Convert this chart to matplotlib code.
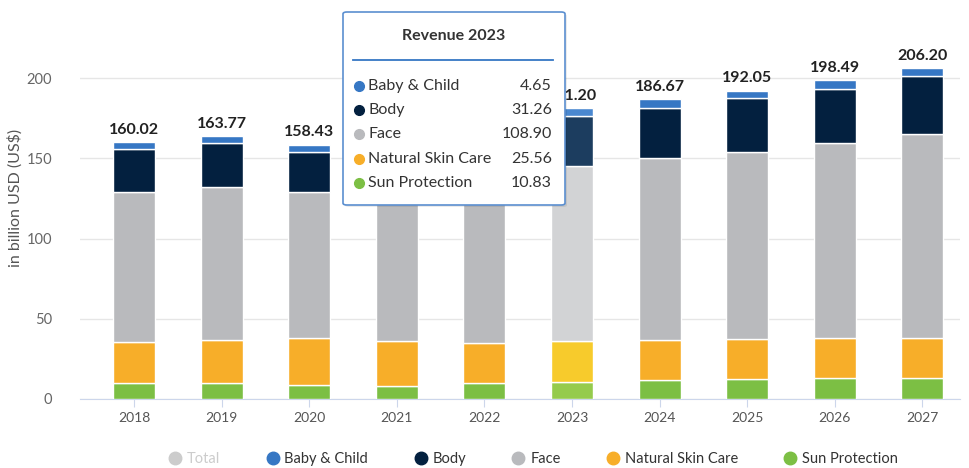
import matplotlib.pyplot as plt
import numpy as np
from matplotlib.lines import Line2D
from matplotlib.patches import FancyBboxPatch

plt.rcParams["font.family"] = ["Lato", "DejaVu Sans"]

years = ["2018", "2019", "2020", "2021", "2022", "2023", "2024", "2025", "2026", "2027"]
sun_protection = [9.8, 9.8, 8.7, 8.3, 9.8, 10.83, 11.8, 12.5, 12.9, 12.9]
natural_skin_care = [25.9, 27.0, 29.5, 28.0, 24.9, 25.56, 25.0, 24.7, 24.9, 24.9]
face = [93.2, 95.2, 90.7, 95.5, 102.0, 108.90, 113.3, 116.6, 122.0, 127.2]
body = [27.1, 27.8, 25.3, 30.0, 30.5, 31.26, 31.5, 33.7, 33.4, 36.4]
baby_child = [4.02, 3.97, 4.23, 4.3, 4.5, 4.65, 5.07, 4.55, 5.29, 4.8]
totals = [160.02, 163.77, 158.43, 166.10, 171.70, 181.20, 186.67, 192.05, 198.49, 206.20]

hover_year = "2023"
# totals of these years sit under the tooltip in the reference
covered_years = ["2021", "2022"]
tooltip_rows = ["Baby & Child", "Body", "Face", "Natural Skin Care", "Sun Protection"]

series = [
    ("Sun Protection", sun_protection, "#7cbf44", "#95cb4c"),
    ("Natural Skin Care", natural_skin_care, "#f7ae29", "#f7cb2c"),
    ("Face", face, "#b9babd", "#d2d3d5"),
    ("Body", body, "#03203f", "#1c3d5f"),
    ("Baby & Child", baby_child, "#3677c4", "#4a88d0"),
]

fig = plt.figure(figsize=(9.69, 4.68), dpi=100)
ax = fig.add_axes([80 / 969, 69 / 468, 880 / 969, 345 / 468])

x = np.arange(len(years))
hi = years.index(hover_year)
bottom = np.zeros(len(years))
for name, vals, col, hcol in series:
    vals = np.array(vals)
    colors = [hcol if i == hi else col for i in range(len(years))]
    ax.bar(x, vals, 0.48, bottom=bottom, color=colors, edgecolor="white",
           linewidth=1.0, zorder=3)
    bottom += vals

for i, t in enumerate(totals):
    if years[i] in covered_years:
        continue
    ax.text(x[i], bottom[i] + 3.5, f"{t:.2f}", ha="center", va="bottom",
            fontsize=11.5, fontweight="bold", color="#222222", zorder=4)

ax.set_xlim(-0.616, 9.43)
ax.set_ylim(0, 215)
ax.set_yticks([0, 50, 100, 150, 200])
ax.set_xticks(x)
ax.set_xticklabels(years)
ax.grid(axis="y", color="#e6e6e6", linewidth=1, zorder=0)
for s in ["top", "right", "left"]:
    ax.spines[s].set_visible(False)
ax.spines["bottom"].set_color("#ccd6eb")
ax.tick_params(axis="y", length=0, pad=20, labelsize=10.5, labelcolor="#666666")
ax.tick_params(axis="x", length=6, color="#ccd6eb", labelsize=10,
               labelcolor="#555555", pad=3)
fig.text(15 / 969, 1 - 198 / 468, "in billion USD (US$)", rotation=90,
         ha="center", va="center", fontsize=11.5, color="#555555")

# legend
handles = [Line2D([], [], marker="o", linestyle="", markersize=9, color="#cccccc")]
labels = ["Total"]
for name, col in [("Baby & Child", "#3677c4"), ("Body", "#03203f"), ("Face", "#b9babd"),
                  ("Natural Skin Care", "#f7ae29"), ("Sun Protection", "#7cbf44")]:
    handles.append(Line2D([], [], marker="o", linestyle="", markersize=9, color=col))
    labels.append(name)
leg = fig.legend(handles, labels, loc="center", bbox_to_anchor=(533 / 969, 1 - 459 / 468),
                 ncol=6, frameon=False, fontsize=10.5, handletextpad=0.3,
                 columnspacing=3.1, handlelength=1.0)
leg.get_texts()[0].set_color("#cccccc")
for t in leg.get_texts()[1:]:
    t.set_color("#333333")

# tooltip for the hovered year
tx0, ty0, tw, th = 343, 12, 222, 193
shadow = FancyBboxPatch(((tx0 + 2) / 969, 1 - (ty0 + th + 2) / 468), tw / 969, th / 468,
                        boxstyle="round,pad=0,rounding_size=0.004", transform=fig.transFigure,
                        facecolor="#000000", alpha=0.08, edgecolor="none", zorder=9)
fig.patches.append(shadow)
box = FancyBboxPatch((tx0 / 969, 1 - (ty0 + th) / 468), tw / 969, th / 468,
                     boxstyle="round,pad=0,rounding_size=0.004", transform=fig.transFigure,
                     facecolor="white", edgecolor="#5b8fd0", linewidth=1.2, zorder=10)
fig.patches.append(box)
fig.text(454 / 969, 1 - 36 / 468, "Revenue " + hover_year, ha="center", va="center",
         fontsize=11.5, fontweight="bold", color="#333333", zorder=11)
fig.add_artist(Line2D([353 / 969, 553 / 969], [1 - 60 / 468, 1 - 60 / 468],
                      color="#3677c4", linewidth=1.3, zorder=11))
row_vals = {name: vals[hi] for name, vals, col, hcol in series}
row_cols = {name: col for name, vals, col, hcol in series}
for k, name in enumerate(tooltip_rows):
    yy = 1 - (86 + k * 24.2) / 468
    fig.add_artist(Line2D([359 / 969], [yy], marker="o", markersize=7,
                          color=row_cols[name], linestyle="", zorder=11))
    fig.text(368 / 969, yy, name, ha="left", va="center", fontsize=11.5,
             color="#333333", zorder=11)
    fig.text(552 / 969, yy, f"{row_vals[name]:.2f}", ha="right", va="center",
             fontsize=11.5, color="#333333", zorder=11)

fig.savefig("out.png", dpi=100)
